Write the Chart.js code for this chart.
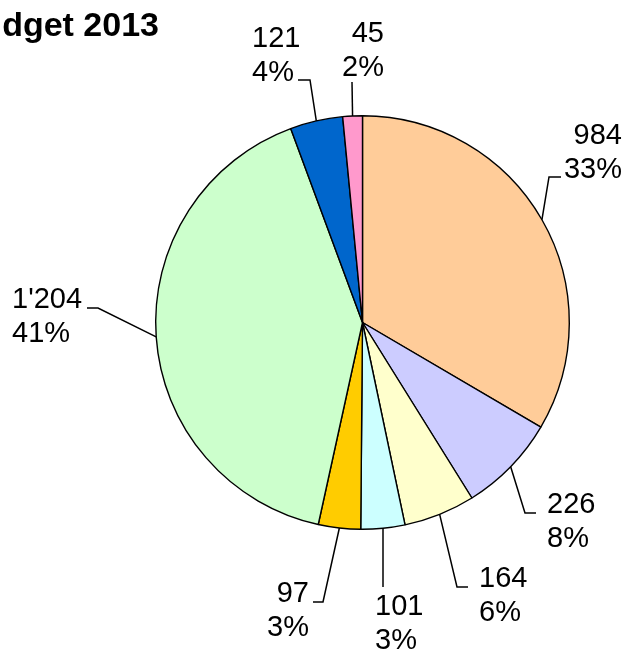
<!DOCTYPE html>
<html>
<head>
<meta charset="utf-8">
<script src="https://cdn.jsdelivr.net/npm/chart.js@4/dist/chart.umd.min.js"></script>
<style>
  html, body { margin: 0; padding: 0; background: #ffffff; overflow: hidden; }
  canvas { display: block; }
</style>
</head>
<body>
<canvas id="c" width="625" height="649"></canvas>
<script>
// ---- data ----
const titleText = "Budget 2013";
const categories = ["A", "B", "C", "D", "E", "F", "G", "H"];
const values = [984, 226, 164, 101, 97, 1204, 121, 45];
const colors = ["#FFCC99", "#CCCCFF", "#FFFFCC", "#CCFFFF", "#FFCC00", "#CCFFCC", "#0066CC", "#FF99CC"];

// ---- label layout (leader-line elbow, horizontal end, text anchor) ----
const elbowX = [549, 525, 457, 383, 323, 98, 310, 352];
const elbowY = [177, 513, 587, 587, 602, 308, 80, 82];
const endX   = [561, 536, 468, null, 313, 87, 298, null];
const textX  = [622, 547, 479, 375, 309, 12, 252, 384];
const textY  = [144, 513, 587, 615, 602, 308, 47, 42];
const textAlign = ["right", "left", "left", "left", "right", "left", "left", "right"];
const lineGap = 34;

const total = values.reduce((a, b) => a + b, 0);
function fmt(v) {
  return String(v).replace(/\B(?=(\d{3})+(?!\d))/g, "'");
}

const labelPlugin = {
  id: 'pieLabels',
  afterDatasetsDraw(chart) {
    const ctx = chart.ctx;
    const meta = chart.getDatasetMeta(0);
    ctx.save();
    ctx.strokeStyle = '#000';
    ctx.lineWidth = 1.5;
    ctx.fillStyle = '#000';
    ctx.font = '29px "Liberation Sans", Arial, sans-serif';
    ctx.textBaseline = 'alphabetic';
    meta.data.forEach((arc, i) => {
      const p = arc.getProps(['x', 'y', 'startAngle', 'endAngle', 'outerRadius'], true);
      const mid = (p.startAngle + p.endAngle) / 2;
      const sx = p.x + Math.cos(mid) * p.outerRadius;
      const sy = p.y + Math.sin(mid) * p.outerRadius;
      ctx.beginPath();
      ctx.moveTo(sx, sy);
      ctx.lineTo(elbowX[i], elbowY[i]);
      if (endX[i] !== null) ctx.lineTo(endX[i], elbowY[i]);
      ctx.stroke();
      ctx.textAlign = textAlign[i];
      const pct = Math.round(values[i] / total * 100) + '%';
      ctx.fillText(fmt(values[i]), textX[i], textY[i]);
      ctx.fillText(pct, textX[i], textY[i] + lineGap);
    });
    ctx.restore();
  }
};

const titlePlugin = {
  id: 'clippedTitle',
  afterDraw(chart) {
    const ctx = chart.ctx;
    ctx.save();
    ctx.fillStyle = '#000';
    ctx.font = 'bold 34px "Liberation Sans", Arial, sans-serif';
    ctx.textAlign = 'right';
    ctx.textBaseline = 'alphabetic';
    ctx.fillText(titleText, 159, 36);
    ctx.restore();
  }
};

new Chart(document.getElementById('c'), {
  type: 'pie',
  data: {
    labels: categories,
    datasets: [{
      data: values,
      backgroundColor: colors,
      borderColor: '#000000',
      borderWidth: 1.4,
      borderAlign: 'center'
    }]
  },
  options: {
    responsive: false,
    animation: false,
    devicePixelRatio: 1,
    events: [],
    layout: { padding: { left: 155, top: 115, right: 55, bottom: 119 } },
    plugins: {
      legend: { display: false },
      tooltip: { enabled: false },
      title: { display: false }
    }
  },
  plugins: [labelPlugin, titlePlugin]
});
</script>
</body>
</html>
